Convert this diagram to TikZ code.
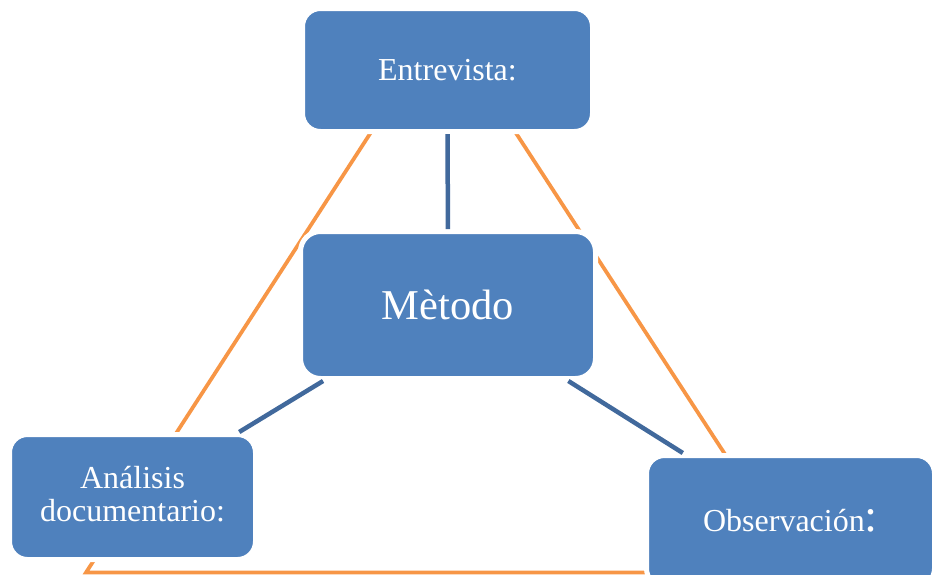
\documentclass[tikz,border=0pt]{standalone}
\usepackage{fontspec}
\setmainfont{Liberation Serif}
\usepackage{tikz}
\usetikzlibrary{positioning}
\definecolor{boxblue}{HTML}{4F81BD}
\definecolor{edgeblue}{HTML}{41699C}
\definecolor{triorange}{HTML}{F79646}
\tikzstyle{methodbox}=[rectangle, rounded corners=18pt, fill=boxblue, draw=white, line width=5pt, outer sep=2.5pt, text=white, align=center, inner sep=0pt]
\tikzstyle{smallfont}=[font=\fontsize{32}{33}\selectfont]
\tikzstyle{bigfont}=[font=\fontsize{42.5}{46}\selectfont]
\tikzstyle{link} = [draw, line width=4.5pt, edgeblue]
\tikzstyle{triangle} = [draw, line width=3.75pt, triorange, line join=miter]

\begin{document}
\begin{tikzpicture}[x=1pt, y=-1pt]
    \useasboundingbox (0,0) rectangle (933,574);
    % First the orange triangle, it stays behind the boxes
    \coordinate (top) at (443,21);
    \coordinate (left) at (86,572.5);
    \coordinate (right) at (802,572.5);
    \path[triangle] (top) -- (left) -- (right) -- cycle;

    % Then the boxes
    \node[methodbox, smallfont, minimum width=290pt, minimum height=123pt] (ent) at (447.5,70) {Entrevista:};
    \node[methodbox, bigfont, minimum width=295pt, minimum height=147pt, rounded corners=20pt] (met) at (448,305) {Mètodo};
    \node[methodbox, smallfont, minimum width=246pt, minimum height=125pt, text depth=6pt] (ana) at (132.5,497) {Análisis\\documentario:};
    \node[methodbox, smallfont, minimum width=288pt, minimum height=131pt] (obs) at (790.5,521) {Observación{\fontsize{47}{47}\selectfont :}};

    % Connect the method with the three techniques
    \foreach \source/\dest in {ent/met, met/ana, met/obs}
        \path[link] (\source) -- (\dest);
\end{tikzpicture}
\end{document}
